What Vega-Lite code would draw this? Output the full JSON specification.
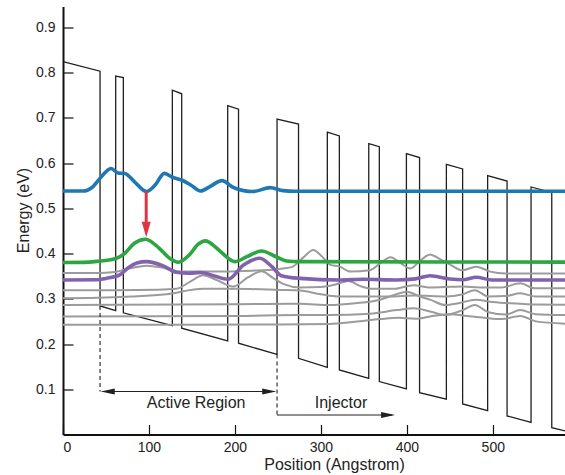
{
  "$schema": "https://vega.github.io/schema/vega-lite/v6.json",
  "width": 502,
  "height": 428,
  "autosize": {"type": "none"},
  "padding": {"left": 63, "top": 6.5, "right": 0, "bottom": 40.5},
  "config": {
    "view": {"stroke": null},
    "font": "Liberation Sans",
    "axis": {
      "domainColor": "#111",
      "domainWidth": 2,
      "tickColor": "#111",
      "tickWidth": 1.2,
      "tickSize": -10,
      "grid": false,
      "labelFontSize": 14,
      "labelColor": "#222",
      "titleFontSize": 16,
      "titleFontWeight": "normal",
      "titleColor": "#222"
    }
  },
  "datasets": {
    "band": [
      {"i": 0, "x": 0, "y": 0.824}, {"i": 1, "x": 43.1, "y": 0.803}, {"i": 2, "x": 43.1, "y": 0.284},
      {"i": 3, "x": 61.3, "y": 0.274}, {"i": 4, "x": 61.3, "y": 0.792}, {"i": 5, "x": 70.2, "y": 0.789},
      {"i": 6, "x": 70.2, "y": 0.269}, {"i": 7, "x": 127.2, "y": 0.2405}, {"i": 8, "x": 127.2, "y": 0.761},
      {"i": 9, "x": 138.1, "y": 0.753}, {"i": 10, "x": 138.1, "y": 0.235}, {"i": 11, "x": 191.6, "y": 0.207},
      {"i": 12, "x": 191.6, "y": 0.727}, {"i": 13, "x": 204.2, "y": 0.719}, {"i": 14, "x": 204.2, "y": 0.2017},
      {"i": 15, "x": 249, "y": 0.177}, {"i": 16, "x": 249, "y": 0.697}, {"i": 17, "x": 274, "y": 0.686},
      {"i": 18, "x": 274, "y": 0.1685}, {"i": 19, "x": 307.5, "y": 0.1486}, {"i": 20, "x": 307.5, "y": 0.668},
      {"i": 21, "x": 321.5, "y": 0.66}, {"i": 22, "x": 321.5, "y": 0.1426}, {"i": 23, "x": 355.7, "y": 0.124},
      {"i": 24, "x": 355.7, "y": 0.643}, {"i": 25, "x": 368, "y": 0.636}, {"i": 26, "x": 368, "y": 0.117},
      {"i": 27, "x": 399.5, "y": 0.1007}, {"i": 28, "x": 399.5, "y": 0.621}, {"i": 29, "x": 414.8, "y": 0.612},
      {"i": 30, "x": 414.8, "y": 0.0925}, {"i": 31, "x": 446, "y": 0.078}, {"i": 32, "x": 446, "y": 0.597},
      {"i": 33, "x": 464.9, "y": 0.587}, {"i": 34, "x": 464.9, "y": 0.0675}, {"i": 35, "x": 494, "y": 0.0527},
      {"i": 36, "x": 494, "y": 0.572}, {"i": 37, "x": 516.6, "y": 0.56}, {"i": 38, "x": 516.6, "y": 0.041},
      {"i": 39, "x": 544.5, "y": 0.027}, {"i": 40, "x": 544.5, "y": 0.547}, {"i": 41, "x": 568.6, "y": 0.535},
      {"i": 42, "x": 568.6, "y": 0.015}, {"i": 43, "x": 584, "y": 0.008}
    ],
    "grays": [
      {"s": "g1", "x": 0, "y": 0.357}, {"s": "g1", "x": 40, "y": 0.357}, {"s": "g1", "x": 60, "y": 0.359}, {"s": "g1", "x": 80, "y": 0.368}, {"s": "g1", "x": 97, "y": 0.373}, {"s": "g1", "x": 115, "y": 0.369}, {"s": "g1", "x": 136, "y": 0.36}, {"s": "g1", "x": 170, "y": 0.36}, {"s": "g1", "x": 220, "y": 0.362}, {"s": "g1", "x": 252, "y": 0.366}, {"s": "g1", "x": 266, "y": 0.37}, {"s": "g1", "x": 280, "y": 0.392}, {"s": "g1", "x": 291, "y": 0.408}, {"s": "g1", "x": 302, "y": 0.392}, {"s": "g1", "x": 311, "y": 0.375}, {"s": "g1", "x": 322, "y": 0.371}, {"s": "g1", "x": 334, "y": 0.36}, {"s": "g1", "x": 357, "y": 0.363}, {"s": "g1", "x": 370, "y": 0.38}, {"s": "g1", "x": 381, "y": 0.392}, {"s": "g1", "x": 392, "y": 0.38}, {"s": "g1", "x": 404, "y": 0.367}, {"s": "g1", "x": 416, "y": 0.385}, {"s": "g1", "x": 427, "y": 0.398}, {"s": "g1", "x": 438, "y": 0.388}, {"s": "g1", "x": 450, "y": 0.376}, {"s": "g1", "x": 464, "y": 0.363}, {"s": "g1", "x": 481, "y": 0.371}, {"s": "g1", "x": 497, "y": 0.36}, {"s": "g1", "x": 515, "y": 0.356}, {"s": "g1", "x": 584, "y": 0.356},
      {"s": "g2", "x": 0, "y": 0.319}, {"s": "g2", "x": 60, "y": 0.319}, {"s": "g2", "x": 110, "y": 0.32}, {"s": "g2", "x": 132, "y": 0.322}, {"s": "g2", "x": 148, "y": 0.338}, {"s": "g2", "x": 163, "y": 0.352}, {"s": "g2", "x": 178, "y": 0.342}, {"s": "g2", "x": 198, "y": 0.327}, {"s": "g2", "x": 215, "y": 0.347}, {"s": "g2", "x": 231, "y": 0.361}, {"s": "g2", "x": 245, "y": 0.345}, {"s": "g2", "x": 256, "y": 0.333}, {"s": "g2", "x": 276, "y": 0.325}, {"s": "g2", "x": 300, "y": 0.326}, {"s": "g2", "x": 318, "y": 0.332}, {"s": "g2", "x": 332, "y": 0.339}, {"s": "g2", "x": 346, "y": 0.328}, {"s": "g2", "x": 360, "y": 0.322}, {"s": "g2", "x": 385, "y": 0.322}, {"s": "g2", "x": 408, "y": 0.33}, {"s": "g2", "x": 425, "y": 0.325}, {"s": "g2", "x": 445, "y": 0.326}, {"s": "g2", "x": 465, "y": 0.327}, {"s": "g2", "x": 485, "y": 0.325}, {"s": "g2", "x": 510, "y": 0.325}, {"s": "g2", "x": 532, "y": 0.334}, {"s": "g2", "x": 549, "y": 0.323}, {"s": "g2", "x": 584, "y": 0.323},
      {"s": "g3", "x": 0, "y": 0.301}, {"s": "g3", "x": 40, "y": 0.302}, {"s": "g3", "x": 80, "y": 0.305}, {"s": "g3", "x": 120, "y": 0.31}, {"s": "g3", "x": 163, "y": 0.322}, {"s": "g3", "x": 200, "y": 0.322}, {"s": "g3", "x": 252, "y": 0.3195}, {"s": "g3", "x": 276, "y": 0.318}, {"s": "g3", "x": 300, "y": 0.31}, {"s": "g3", "x": 320, "y": 0.305}, {"s": "g3", "x": 350, "y": 0.305}, {"s": "g3", "x": 380, "y": 0.305}, {"s": "g3", "x": 410, "y": 0.307}, {"s": "g3", "x": 445, "y": 0.305}, {"s": "g3", "x": 465, "y": 0.31}, {"s": "g3", "x": 479, "y": 0.319}, {"s": "g3", "x": 495, "y": 0.305}, {"s": "g3", "x": 515, "y": 0.306}, {"s": "g3", "x": 532, "y": 0.312}, {"s": "g3", "x": 550, "y": 0.305}, {"s": "g3", "x": 584, "y": 0.305},
      {"s": "g4", "x": 0, "y": 0.286}, {"s": "g4", "x": 200, "y": 0.288}, {"s": "g4", "x": 276, "y": 0.289}, {"s": "g4", "x": 310, "y": 0.286}, {"s": "g4", "x": 340, "y": 0.29}, {"s": "g4", "x": 369, "y": 0.298}, {"s": "g4", "x": 388, "y": 0.31}, {"s": "g4", "x": 400, "y": 0.3157}, {"s": "g4", "x": 415, "y": 0.305}, {"s": "g4", "x": 427, "y": 0.298}, {"s": "g4", "x": 445, "y": 0.286}, {"s": "g4", "x": 460, "y": 0.29}, {"s": "g4", "x": 480, "y": 0.298}, {"s": "g4", "x": 500, "y": 0.293}, {"s": "g4", "x": 520, "y": 0.29}, {"s": "g4", "x": 540, "y": 0.288}, {"s": "g4", "x": 584, "y": 0.287},
      {"s": "g5", "x": 0, "y": 0.261}, {"s": "g5", "x": 200, "y": 0.262}, {"s": "g5", "x": 276, "y": 0.264}, {"s": "g5", "x": 310, "y": 0.264}, {"s": "g5", "x": 357, "y": 0.267}, {"s": "g5", "x": 388, "y": 0.275}, {"s": "g5", "x": 408, "y": 0.279}, {"s": "g5", "x": 427, "y": 0.272}, {"s": "g5", "x": 445, "y": 0.264}, {"s": "g5", "x": 465, "y": 0.275}, {"s": "g5", "x": 479, "y": 0.286}, {"s": "g5", "x": 495, "y": 0.27}, {"s": "g5", "x": 515, "y": 0.265}, {"s": "g5", "x": 532, "y": 0.275}, {"s": "g5", "x": 550, "y": 0.266}, {"s": "g5", "x": 584, "y": 0.264},
      {"s": "g6", "x": 0, "y": 0.2425}, {"s": "g6", "x": 250, "y": 0.243}, {"s": "g6", "x": 310, "y": 0.244}, {"s": "g6", "x": 340, "y": 0.249}, {"s": "g6", "x": 369, "y": 0.255}, {"s": "g6", "x": 390, "y": 0.258}, {"s": "g6", "x": 410, "y": 0.256}, {"s": "g6", "x": 430, "y": 0.262}, {"s": "g6", "x": 450, "y": 0.266}, {"s": "g6", "x": 470, "y": 0.262}, {"s": "g6", "x": 490, "y": 0.258}, {"s": "g6", "x": 510, "y": 0.255}, {"s": "g6", "x": 532, "y": 0.262}, {"s": "g6", "x": 550, "y": 0.25}, {"s": "g6", "x": 584, "y": 0.245}
    ],
    "states": [
      {"s": "lower laser level", "x": 0, "y": 0.3415}, {"s": "lower laser level", "x": 40, "y": 0.342}, {"s": "lower laser level", "x": 50, "y": 0.345}, {"s": "lower laser level", "x": 66, "y": 0.3526}, {"s": "lower laser level", "x": 76, "y": 0.3688}, {"s": "lower laser level", "x": 86, "y": 0.379}, {"s": "lower laser level", "x": 97, "y": 0.382}, {"s": "lower laser level", "x": 116, "y": 0.3732}, {"s": "lower laser level", "x": 132, "y": 0.3586}, {"s": "lower laser level", "x": 147, "y": 0.3564}, {"s": "lower laser level", "x": 160, "y": 0.358}, {"s": "lower laser level", "x": 175, "y": 0.351}, {"s": "lower laser level", "x": 192, "y": 0.343}, {"s": "lower laser level", "x": 210, "y": 0.3747}, {"s": "lower laser level", "x": 229, "y": 0.3895}, {"s": "lower laser level", "x": 243, "y": 0.371}, {"s": "lower laser level", "x": 254, "y": 0.351}, {"s": "lower laser level", "x": 276, "y": 0.345}, {"s": "lower laser level", "x": 322, "y": 0.3415}, {"s": "lower laser level", "x": 349, "y": 0.343}, {"s": "lower laser level", "x": 388, "y": 0.3415}, {"s": "lower laser level", "x": 410, "y": 0.344}, {"s": "lower laser level", "x": 427, "y": 0.351}, {"s": "lower laser level", "x": 450, "y": 0.3438}, {"s": "lower laser level", "x": 465, "y": 0.342}, {"s": "lower laser level", "x": 481, "y": 0.3475}, {"s": "lower laser level", "x": 499, "y": 0.3415}, {"s": "lower laser level", "x": 584, "y": 0.3415},
      {"s": "middle level", "x": 0, "y": 0.38}, {"s": "middle level", "x": 30, "y": 0.381}, {"s": "middle level", "x": 43, "y": 0.3835}, {"s": "middle level", "x": 55, "y": 0.386}, {"s": "middle level", "x": 62, "y": 0.3895}, {"s": "middle level", "x": 72, "y": 0.4005}, {"s": "middle level", "x": 83, "y": 0.4226}, {"s": "middle level", "x": 96, "y": 0.4315}, {"s": "middle level", "x": 112, "y": 0.4116}, {"s": "middle level", "x": 124, "y": 0.3895}, {"s": "middle level", "x": 134, "y": 0.3807}, {"s": "middle level", "x": 147, "y": 0.397}, {"s": "middle level", "x": 157, "y": 0.42}, {"s": "middle level", "x": 166, "y": 0.428}, {"s": "middle level", "x": 175, "y": 0.418}, {"s": "middle level", "x": 184, "y": 0.403}, {"s": "middle level", "x": 200, "y": 0.382}, {"s": "middle level", "x": 214, "y": 0.393}, {"s": "middle level", "x": 231, "y": 0.4056}, {"s": "middle level", "x": 249, "y": 0.3917}, {"s": "middle level", "x": 260, "y": 0.3836}, {"s": "middle level", "x": 275, "y": 0.382}, {"s": "middle level", "x": 584, "y": 0.381},
      {"s": "upper laser level", "x": 0, "y": 0.538}, {"s": "upper laser level", "x": 23, "y": 0.538}, {"s": "upper laser level", "x": 35, "y": 0.548}, {"s": "upper laser level", "x": 43, "y": 0.566}, {"s": "upper laser level", "x": 56, "y": 0.588}, {"s": "upper laser level", "x": 64, "y": 0.578}, {"s": "upper laser level", "x": 72, "y": 0.577}, {"s": "upper laser level", "x": 83, "y": 0.559}, {"s": "upper laser level", "x": 97, "y": 0.537}, {"s": "upper laser level", "x": 107, "y": 0.551}, {"s": "upper laser level", "x": 118, "y": 0.577}, {"s": "upper laser level", "x": 128, "y": 0.568}, {"s": "upper laser level", "x": 138, "y": 0.5625}, {"s": "upper laser level", "x": 149, "y": 0.551}, {"s": "upper laser level", "x": 160, "y": 0.538}, {"s": "upper laser level", "x": 171, "y": 0.548}, {"s": "upper laser level", "x": 185, "y": 0.561}, {"s": "upper laser level", "x": 198, "y": 0.546}, {"s": "upper laser level", "x": 210, "y": 0.539}, {"s": "upper laser level", "x": 221, "y": 0.537}, {"s": "upper laser level", "x": 241, "y": 0.5455}, {"s": "upper laser level", "x": 256, "y": 0.539}, {"s": "upper laser level", "x": 270, "y": 0.5375}, {"s": "upper laser level", "x": 584, "y": 0.5375}
    ]
  },
  "encoding": {
    "x": {
      "field": "x", "type": "quantitative",
      "scale": {"domain": [0, 584], "nice": false, "zero": false},
      "axis": {"title": "Position (Angstrom)", "values": [0, 100, 200, 300, 400, 500], "labelPadding": 16, "titleX": 271, "titleY": 35, "titleBaseline": "alphabetic"}
    },
    "y": {
      "field": "y", "type": "quantitative",
      "scale": {"domain": [0, 0.9459], "nice": false, "zero": false},
      "axis": {"title": "Energy (eV)", "values": [0.1, 0.2, 0.3, 0.4, 0.5, 0.6, 0.7, 0.8, 0.9], "format": ".1f", "labelPadding": 18, "titleX": -34.5, "titleY": 203.5, "titleBaseline": "alphabetic"}
    }
  },
  "layer": [
    {
      "data": {"name": "band"},
      "mark": {"type": "line", "color": "#231f20", "strokeWidth": 1.3},
      "encoding": {"order": {"field": "i", "type": "quantitative"}}
    },
    {
      "data": {"name": "grays"},
      "mark": {"type": "line", "color": "#9b9b9b", "strokeWidth": 2, "interpolate": "monotone"},
      "encoding": {"detail": {"field": "s", "type": "nominal"}}
    },
    {
      "data": {"name": "states"},
      "mark": {"type": "line", "strokeWidth": 3.6, "interpolate": "monotone"},
      "encoding": {
        "color": {"field": "s", "type": "nominal", "legend": null,
          "scale": {"domain": ["lower laser level", "middle level", "upper laser level"], "range": ["#8362ad", "#2aa643", "#1f77b4"]}}
      }
    },
    {
      "data": {"values": [{"x": 96.8, "y": 0.537, "y2": 0.466}]},
      "mark": {"type": "rule", "color": "#e2343f", "strokeWidth": 3},
      "encoding": {"y2": {"field": "y2"}}
    },
    {
      "data": {"values": [{"x": 96.8, "y": 0.436}]},
      "mark": {"type": "point", "filled": true, "size": 100, "opacity": 1, "color": "#e2343f", "shape": "M0,0L-0.9,-3.1L0.9,-3.1Z"}
    },
    {
      "data": {"values": [{"x": 43.1, "y": 0.284, "y2": 0.095}, {"x": 249, "y": 0.177, "y2": 0.043}]},
      "mark": {"type": "rule", "color": "#231f20", "strokeWidth": 1.1, "strokeDash": [4, 3]},
      "encoding": {"y2": {"field": "y2"}}
    },
    {
      "data": {"values": [{"x": 46, "x2": 246, "y": 0.095}, {"x": 249, "x2": 383, "y": 0.0431}]},
      "mark": {"type": "rule", "color": "#231f20", "strokeWidth": 1.2},
      "encoding": {"x2": {"field": "x2"}}
    },
    {
      "data": {"values": [{"x": 43.9, "y": 0.095}]},
      "mark": {"type": "point", "filled": true, "size": 100, "opacity": 1, "color": "#231f20", "shape": "M0,0L2.8,-0.6L2.8,0.6Z"}
    },
    {
      "data": {"values": [{"x": 248, "y": 0.095}, {"x": 386.3, "y": 0.0431}]},
      "mark": {"type": "point", "filled": true, "size": 100, "opacity": 1, "color": "#231f20", "shape": "M0,0L-2.8,-0.6L-2.8,0.6Z"}
    },
    {
      "data": {"values": [{"x": 154.8, "y": 0.058, "label": "Active Region"}, {"x": 323.4, "y": 0.058, "label": "Injector"}]},
      "mark": {"type": "text", "fontSize": 16, "align": "center", "baseline": "alphabetic", "color": "#231f20"},
      "encoding": {"text": {"field": "label"}}
    }
  ]
}
